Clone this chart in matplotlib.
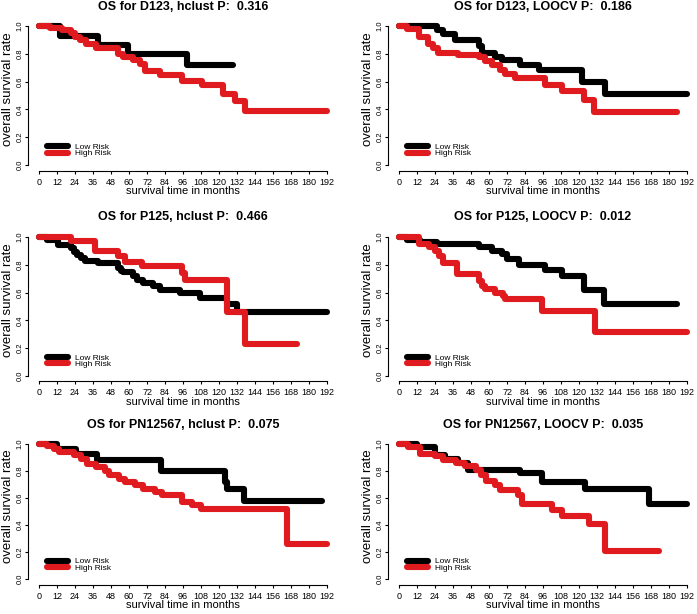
# Kaplan-Meier style survival curves, low vs high risk, 3 cohorts x 2 methods
import numpy as np
import matplotlib.pyplot as plt

plt.rcParams['font.family'] = ['Liberation Sans', 'DejaVu Sans']

titles = ['OS for D123, hclust P:  0.316', 'OS for D123, LOOCV P:  0.186',
          'OS for P125, hclust P:  0.466', 'OS for P125, LOOCV P:  0.012',
          'OS for PN12567, hclust P:  0.075', 'OS for PN12567, LOOCV P:  0.035']
group_labels = ['Low Risk', 'High Risk']
x_ticks = list(range(0, 193, 12))
y_ticks = [0.0, 0.2, 0.4, 0.6, 0.8, 1.0]

# D123, hclust
d123_hc_low_t = [0, 13.8, 39.4, 59.5, 98.4, 129.6]
d123_hc_low_s = [1.0, 0.933, 0.867, 0.80, 0.718, 0.718]
d123_hc_high_t = [0, 7, 15, 21.6, 24, 27, 31.6, 38.3, 52.8, 56, 62.8, 67.3, 70.6,
                  80.6, 95.1, 108.5, 122.9, 130.7, 137.4, 192]
d123_hc_high_s = [1.0, 0.988, 0.97, 0.95, 0.925, 0.90, 0.87, 0.84, 0.80, 0.775, 0.755,
                  0.73, 0.68, 0.645, 0.607, 0.58, 0.51, 0.46, 0.39, 0.39]

# D123, LOOCV
d123_lo_low_t = [0, 25, 29.6, 37, 53.2, 55.5, 64, 68.5, 80.8, 93, 122, 137.5, 192]
d123_lo_low_s = [1.0, 0.97, 0.945, 0.90, 0.855, 0.81, 0.78, 0.755, 0.72, 0.685, 0.60, 0.51, 0.51]
d123_lo_high_t = [0, 5, 13, 19.6, 22.9, 26, 39.6, 53, 57.4, 62, 67.4, 70.7, 77.4, 97.4,
                  108.5, 123, 129.7, 185.3]
d123_lo_high_s = [1.0, 0.98, 0.925, 0.87, 0.84, 0.81, 0.795, 0.78, 0.75, 0.72, 0.685,
                  0.655, 0.63, 0.58, 0.53, 0.47, 0.38, 0.38]

# P125, hclust
p125_hc_low_t = [0, 5, 12.7, 21.6, 23.5, 25.5, 28, 30.5, 39.4, 52.8, 54.5, 56.1, 62.8,
                 65, 69.5, 76, 80.6, 94, 107, 125, 131.8, 192]
p125_hc_low_s = [1.0, 0.98, 0.945, 0.92, 0.895, 0.87, 0.85, 0.83, 0.81, 0.78, 0.755, 0.745,
                 0.72, 0.69, 0.67, 0.65, 0.62, 0.60, 0.56, 0.52, 0.46, 0.46]
p125_hc_high_t = [0, 21.6, 37.2, 52.8, 57.2, 68.4, 95.1, 97.3, 125.2, 137.4, 172]
p125_hc_high_s = [1.0, 0.97, 0.90, 0.865, 0.82, 0.79, 0.74, 0.69, 0.46, 0.23, 0.23]

# P125, LOOCV
p125_lo_low_t = [0, 5, 14, 25, 53, 62, 68.5, 72, 80, 97.4, 108.6, 123, 136.4, 185.3]
p125_lo_low_s = [1.0, 0.975, 0.965, 0.95, 0.925, 0.90, 0.875, 0.845, 0.80, 0.765, 0.72,
                 0.62, 0.515, 0.515]
p125_lo_high_t = [0, 13, 20, 24, 26.5, 29.6, 38.5, 53, 55, 57.4, 64, 69.6, 70.7, 95.2,
                  130.8, 192]
p125_lo_high_s = [1.0, 0.95, 0.93, 0.90, 0.86, 0.81, 0.73, 0.68, 0.65, 0.625, 0.60, 0.575,
                  0.55, 0.47, 0.315, 0.315]

# PN12567, hclust
pn_hc_low_t = [0, 12.2, 24.4, 38.8, 81, 124.3, 125.5, 136.5, 188.7]
pn_hc_low_s = [1.0, 0.965, 0.925, 0.885, 0.80, 0.72, 0.665, 0.58, 0.58]
pn_hc_high_t = [0, 5.5, 10, 13, 23.5, 28, 32, 38, 44, 46.6, 53, 57, 64, 69, 77, 82,
                95.4, 102, 108.3, 165.4, 192]
pn_hc_high_s = [1.0, 0.985, 0.965, 0.945, 0.92, 0.89, 0.85, 0.83, 0.80, 0.77, 0.745, 0.72,
                0.70, 0.67, 0.645, 0.62, 0.57, 0.55, 0.52, 0.26, 0.26]

# PN12567, LOOCV
pn_lo_low_t = [0, 11.8, 24, 30.7, 39.6, 46.3, 80.8, 95.2, 124, 166.4, 192]
pn_lo_low_s = [1.0, 0.975, 0.92, 0.89, 0.86, 0.81, 0.785, 0.72, 0.665, 0.555, 0.555]
pn_lo_high_t = [0, 6.2, 14, 24, 29.6, 38, 44, 51, 54.5, 58, 64, 67.4, 79.5, 81.9, 101.9,
                108.6, 126.4, 137.5, 173]
pn_lo_high_s = [1.0, 0.98, 0.925, 0.91, 0.88, 0.86, 0.84, 0.81, 0.77, 0.73, 0.70, 0.66,
                0.62, 0.56, 0.515, 0.47, 0.41, 0.205, 0.205]

panels = [
    (d123_hc_low_t, d123_hc_low_s, d123_hc_high_t, d123_hc_high_s),
    (d123_lo_low_t, d123_lo_low_s, d123_lo_high_t, d123_lo_high_s),
    (p125_hc_low_t, p125_hc_low_s, p125_hc_high_t, p125_hc_high_s),
    (p125_lo_low_t, p125_lo_low_s, p125_lo_high_t, p125_lo_high_s),
    (pn_hc_low_t, pn_hc_low_s, pn_hc_high_t, pn_hc_high_s),
    (pn_lo_low_t, pn_lo_low_s, pn_lo_high_t, pn_lo_high_s),
]

RED = '#E01B1F'
LW = 4.4

fig = plt.figure(figsize=(6.97, 6.14), dpi=100)
col_left = [0.0395, 0.556]
row_bottom = [0.7223, 0.3790, 0.0480]
row_height = [0.2440, 0.2440, 0.2375]
ax_w = 0.4462

for i, (lt, ls, ht, hs) in enumerate(panels):
    r, c = divmod(i, 2)
    ax = fig.add_axes([col_left[c], row_bottom[r], ax_w, row_height[r]])
    ax.plot(lt, ls, drawstyle='steps-post', color='black', lw=LW,
            solid_capstyle='round', solid_joinstyle='round', label=group_labels[0])
    ax.plot(ht, hs, drawstyle='steps-post', color=RED, lw=LW,
            solid_capstyle='round', solid_joinstyle='round', label=group_labels[1])

    ax.set_xlim(-7.68, 199.68)
    ax.set_ylim(-0.04, 1.04)
    ax.set_xticks(x_ticks)
    ax.set_yticks(y_ticks)
    ax.set_yticklabels([f'{v:.1f}' for v in y_ticks], rotation=90, va='center')
    for s in ['top', 'right']:
        ax.spines[s].set_visible(False)
    ax.spines['bottom'].set_bounds(0, 192)
    ax.spines['left'].set_bounds(0, 1)
    ax.tick_params(axis='x', labelsize=6.5, length=2.5, width=0.8, pad=2.6)
    ax.tick_params(axis='y', labelsize=5.5, length=2.5, width=0.8, pad=0.5)
    ax.set_xlabel('survival time in months', fontsize=8, labelpad=-0.3)
    ax.set_ylabel('overall survival rate', fontsize=9.5)
    ax.yaxis.set_label_coords(-0.0434, 0.54)
    ax.text(0.5, 1.0 + 11 / (150 * row_height[r] / 0.244), titles[i],
            transform=ax.transAxes, ha='center', va='baseline',
            fontsize=9, fontweight='bold')
    ax.legend(loc='center left', bbox_to_anchor=(0.063, 0.135), frameon=False,
              fontsize=6, handlelength=2.5, handletextpad=0.8, labelspacing=-0.15,
              borderpad=0, borderaxespad=0)

fig.savefig('out.png', dpi=100)
